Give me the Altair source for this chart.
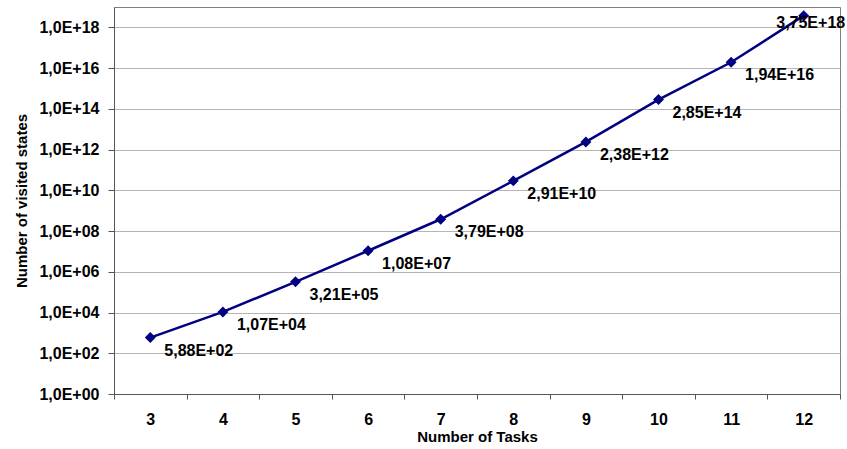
import altair as alt
import pandas as pd

# Number of tasks and the number of visited states for each
tasks = [3, 4, 5, 6, 7, 8, 9, 10, 11, 12]
visited_states = [5.88e2, 1.07e4, 3.21e5, 1.08e7, 3.79e8,
                  2.91e10, 2.38e12, 2.85e14, 1.94e16, 3.75e18]
y_ticks = [10.0 ** k for k in range(0, 19, 2)]

df = pd.DataFrame({
    "tasks": tasks,
    "states": visited_states,
    "label": [f"{v:.2E}".replace(".", ",") for v in visited_states],
})

FONT = "Liberation Sans"
NAVY = "#000080"

x_enc = alt.X(
    "tasks:O",
    sort=tasks,
    scale=alt.Scale(type="band", paddingInner=0, paddingOuter=0),
    axis=alt.Axis(
        title="Number of Tasks",
        labelAngle=0,
        tickBand="extent",
        tickSize=5,
        labelPadding=12,
        labelFontSize=16,
        labelFontWeight="bold",
        titleFontSize=15,
        titleFontWeight="bold",
        titlePadding=2,
        domainColor="#555555",
        tickColor="#555555",
        labelColor="#000000",
        titleColor="#000000",
    ),
)

y_enc = alt.Y(
    "states:Q",
    scale=alt.Scale(type="log", domain=[1, 1e19], nice=False),
    axis=alt.Axis(
        title="Number of visited states",
        values=y_ticks,
        labelExpr="'1,0E+' + (round(log(datum.value) / LN10) < 10 ? '0' : '') + round(log(datum.value) / LN10)",
        tickSize=6,
        labelPadding=9,
        labelFontSize=16,
        labelFontWeight="bold",
        titleFontSize=15,
        titleFontWeight="bold",
        titlePadding=9,
        gridColor="#b5b5b5",
        gridWidth=1,
        domainColor="#555555",
        tickColor="#555555",
        labelColor="#000000",
        titleColor="#000000",
    ),
)

base = alt.Chart(df).encode(x=x_enc, y=y_enc)

line = base.mark_line(color=NAVY, strokeWidth=2.5)
points = base.mark_point(shape="diamond", filled=True, color=NAVY, size=120, opacity=1)

labels = base.transform_filter(alt.datum.tasks < 12).mark_text(
    align="left", baseline="middle", dx=14, dy=13,
    font=FONT, fontSize=16, fontWeight="bold", color="#000000",
).encode(text="label:N")

last_label = base.transform_filter(alt.datum.tasks == 12).mark_text(
    align="center", baseline="middle", dx=7, dy=7,
    font=FONT, fontSize=16, fontWeight="bold", color="#000000",
).encode(text="label:N")

chart = (
    alt.layer(line, points, labels, last_label)
    .properties(
        width=726,
        height=387,
        autosize=alt.AutoSizeParams(type="none"),
        padding={"left": 114, "top": 7, "right": 7, "bottom": 55},
    )
    .configure(font=FONT)
    .configure_view(stroke="#808080", strokeWidth=1)
)

chart.save("out.html", embed_options={"renderer": "svg", "actions": False})
